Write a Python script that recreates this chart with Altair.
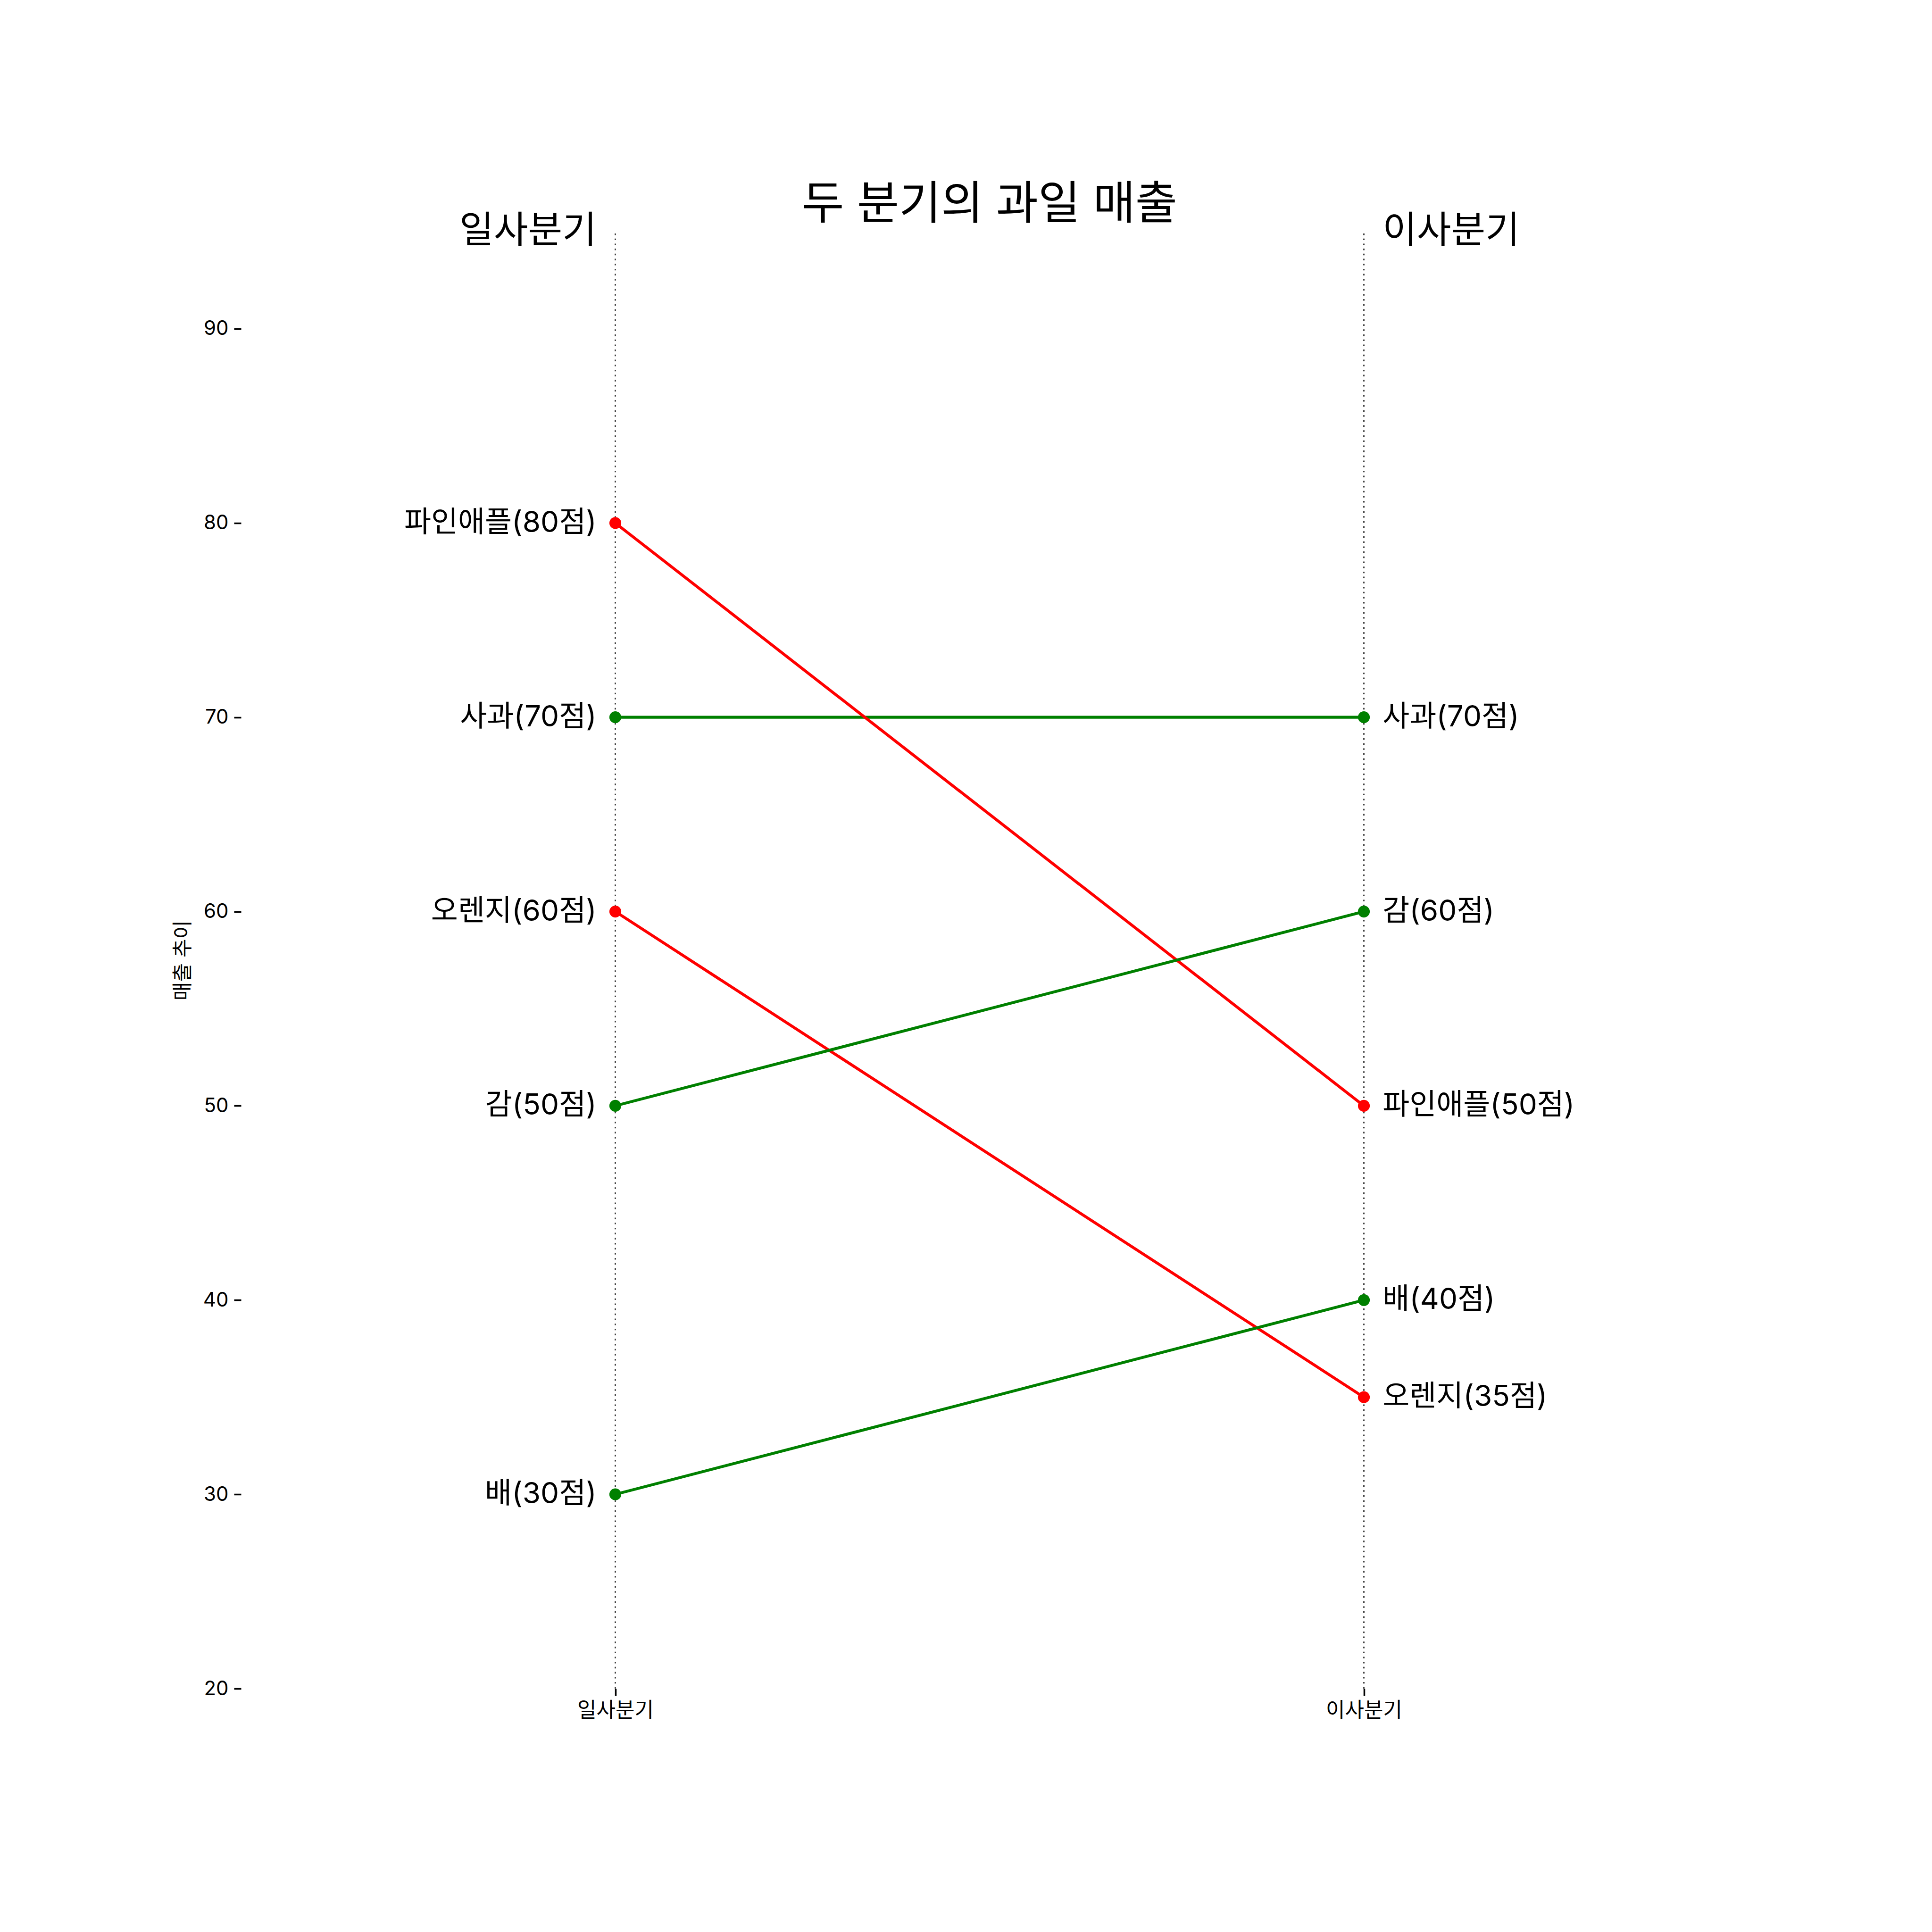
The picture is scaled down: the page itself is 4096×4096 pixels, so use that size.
import altair as alt
import pandas as pd

fruits = ['사과', '파인애플', '오렌지', '감', '배']
q1 = [70, 80, 60, 50, 30]
q2 = [70, 50, 35, 60, 40]
quarters = ['일사분기', '이사분기']
quarter_x = [1, 3]
label_offset = 0.05
y_min, y_max = 20, 95
y_ticks = [20, 30, 40, 50, 60, 70, 80, 90]

FONT = 'Inter, Noto Sans CJK KR'

rows = []
for f, a, b in zip(fruits, q1, q2):
    col = '#ff0000' if b < a else '#008000'
    rows.append(dict(fruit=f, x=quarter_x[0], y=a, color=col,
                     label=f'{f}({a}점)', lx=quarter_x[0] - label_offset))
    rows.append(dict(fruit=f, x=quarter_x[1], y=b, color=col,
                     label=f'{f}({b}점)', lx=quarter_x[1] + label_offset))
df = pd.DataFrame(rows)

vl = pd.DataFrame(dict(x=quarter_x, y=[y_min] * 2, y2=[y_max] * 2))
hd = pd.DataFrame(dict(x=[quarter_x[0] - label_offset, quarter_x[1] + label_offset],
                       y=[y_max] * 2, text=quarters))

xs = alt.Scale(domain=[0, 4], nice=False, zero=False)
ys = alt.Scale(domain=[y_min, y_max], nice=False, zero=False)

xaxis = alt.Axis(values=quarter_x, labelExpr="datum.value == 1 ? '일사분기' : '이사분기'",
                 title=None, grid=False, domain=False, ticks=True, tickColor='black',
                 tickSize=15, tickWidth=3.5, labelColor='black', labelFont=FONT,
                 labelFontSize=44, labelPadding=10, labelAngle=0)
yaxis = alt.Axis(values=y_ticks, title='매출 추이', grid=False, domain=False,
                 tickColor='black', tickSize=15, tickWidth=3.5, labelColor='black',
                 labelFont=FONT, labelFontSize=42, labelPadding=12,
                 titleFont=FONT, titleFontSize=43, titleFontWeight='normal',
                 titleColor='black', titlePadding=20)

rules = alt.Chart(vl).mark_rule(color='#444444', strokeWidth=3, strokeDash=[3.4, 7.3]).encode(
    x=alt.X('x:Q', scale=xs, axis=xaxis),
    y=alt.Y('y:Q', scale=ys, axis=yaxis),
    y2='y2:Q')

lines = alt.Chart(df).mark_line(strokeWidth=6.1).encode(
    x=alt.X('x:Q', scale=xs), y=alt.Y('y:Q', scale=ys),
    detail='fruit:N', color=alt.Color('color:N', scale=None))

points = alt.Chart(df).mark_point(filled=True, size=634, opacity=1, shape='circle').encode(
    x=alt.X('x:Q', scale=xs), y=alt.Y('y:Q', scale=ys),
    color=alt.Color('color:N', scale=None))

left_lab = alt.Chart(df[df.x == 1]).mark_text(align='right', baseline='middle', font=FONT,
                                              fontSize=62, color='black').encode(
    x=alt.X('lx:Q', scale=xs), y=alt.Y('y:Q', scale=ys), text='label:N')
right_lab = alt.Chart(df[df.x == 3]).mark_text(align='left', baseline='middle', font=FONT,
                                               fontSize=62, color='black').encode(
    x=alt.X('lx:Q', scale=xs), y=alt.Y('y:Q', scale=ys), text='label:N')

hl = alt.Chart(hd.iloc[[0]]).mark_text(align='right', baseline='middle', font=FONT,
                                       fontSize=79, color='black').encode(
    x=alt.X('x:Q', scale=xs), y=alt.Y('y:Q', scale=ys), text='text:N')
hr = alt.Chart(hd.iloc[[1]]).mark_text(align='left', baseline='middle', font=FONT,
                                       fontSize=79, color='black').encode(
    x=alt.X('x:Q', scale=xs), y=alt.Y('y:Q', scale=ys), text='text:N')

chart = alt.layer(rules, lines, points, left_lab, right_lab, hl, hr).properties(
    width=3174, height=3089,
    autosize=alt.AutoSizeParams(type='none'),
    padding={'left': 511, 'top': 491, 'right': 411, 'bottom': 516},
    title=alt.TitleParams('두 분기의 과일 매출', font=FONT, fontSize=97, fontWeight='normal',
                          color='black', anchor='middle', baseline='alphabetic', offset=24,
                          frame='group', dy=133),
    background='white',
).configure_view(stroke=None)

chart.save('out.html', embed_options={'renderer': 'svg', 'actions': False})
